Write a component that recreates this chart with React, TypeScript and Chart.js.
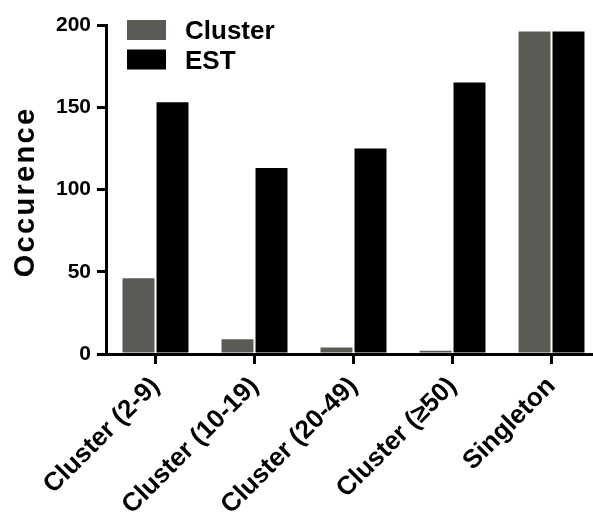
import React, { useEffect, useRef } from "react";
import { Chart, registerables } from "chart.js";

Chart.register(...registerables);

const categories = ["Cluster (2-9)", "Cluster (10-19)", "Cluster (20-49)", "Cluster (\u226550)", "Singleton"];
const seriesNames = ["Cluster", "EST"];
const clusterValues = [46, 9, 4, 2, 196];
const estValues = [153, 113, 125, 165, 196];
const yTickValues = [0, 50, 100, 150, 200];
const yTitle = "Occurence";

const FONT = "'Liberation Sans', Arial, Helvetica, sans-serif";

const insetLegend = {
  id: "insetLegend",
  afterDraw(chart: any) {
    const ctx = chart.ctx;
    ctx.save();
    chart.data.datasets.forEach((ds: any, i: number) => {
      const bx = 127;
      const by = 20 + i * 29.5;
      ctx.fillStyle = ds.backgroundColor;
      ctx.fillRect(bx, by, 39, 20);
      ctx.fillStyle = "#000";
      ctx.font = `bold 26px ${FONT}`;
      ctx.textAlign = "left";
      ctx.textBaseline = "alphabetic";
      ctx.fillText(ds.label, 185, by + 19);
    });
    ctx.restore();
  },
};

const yTitlePlugin = {
  id: "yTitleSpaced",
  afterDraw(chart: any) {
    const ctx = chart.ctx;
    ctx.save();
    ctx.translate(34, 193);
    ctx.rotate(-Math.PI / 2);
    ctx.fillStyle = "#000";
    ctx.font = `bold 29px ${FONT}`;
    (ctx as any).letterSpacing = "2.3px";
    ctx.textAlign = "center";
    ctx.textBaseline = "alphabetic";
    ctx.fillText(yTitle, 1, 0);
    ctx.restore();
  },
};

export default function App() {
  const ref = useRef<HTMLCanvasElement | null>(null);

  useEffect(() => {
    document.body.style.margin = "0";
    const canvas = ref.current;
    if (!canvas) return;
    const chart = new Chart(canvas, {
      type: "bar",
      data: {
        labels: categories,
        datasets: [
          {
            label: seriesNames[0],
            data: clusterValues,
            backgroundColor: "#5b5b55",
            borderWidth: 0,
            categoryPercentage: 0.687,
            barPercentage: 0.94,
          },
          {
            label: seriesNames[1],
            data: estValues,
            backgroundColor: "#000000",
            borderWidth: 0,
            categoryPercentage: 0.687,
            barPercentage: 0.94,
          },
        ],
      },
      options: {
        responsive: false,
        animation: false,
        devicePixelRatio: 1,
        layout: { padding: { top: 25, left: 0, right: 0, bottom: 0 } },
        plugins: {
          legend: { display: false },
          tooltip: { enabled: false },
          title: { display: false },
        },
        scales: {
          x: {
            offset: true,
            grid: {
              display: true,
              drawOnChartArea: false,
              drawTicks: true,
              tickLength: 10,
              lineWidth: 3,
              color: "#000",
              offset: false,
            },
            border: { display: true, width: 3, color: "#000", z: 1 },
            ticks: {
              color: "#000",
              font: { family: FONT, size: 26, weight: "bold" },
              minRotation: 45,
              maxRotation: 45,
              autoSkip: false,
              padding: 7,
            },
            afterFit: (s: any) => {
              s.height = 169;
            },
          },
          y: {
            min: 0,
            max: 200,
            grid: {
              display: true,
              drawOnChartArea: false,
              drawTicks: true,
              tickLength: 9,
              lineWidth: 3,
              color: "#000",
            },
            border: { display: true, width: 3, color: "#000", z: 1 },
            ticks: {
              color: "#000",
              font: { family: FONT, size: 21, weight: "bold" },
              padding: 6,
            },
            afterBuildTicks: (s: any) => {
              s.ticks = yTickValues.map((v) => ({ value: v }));
            },
            title: { display: false },
            afterFit: (s: any) => {
              s.width = 106;
            },
          },
        },
      },
      plugins: [insetLegend, yTitlePlugin],
    });
    return () => chart.destroy();
  }, []);

  return (
    <div
      style={{
        position: "absolute",
        left: 0,
        top: 0,
        width: 593,
        height: 523,
        overflow: "hidden",
        background: "#fff",
      }}
    >
      <canvas ref={ref} width={601} height={523} style={{ display: "block" }} />
    </div>
  );
}
